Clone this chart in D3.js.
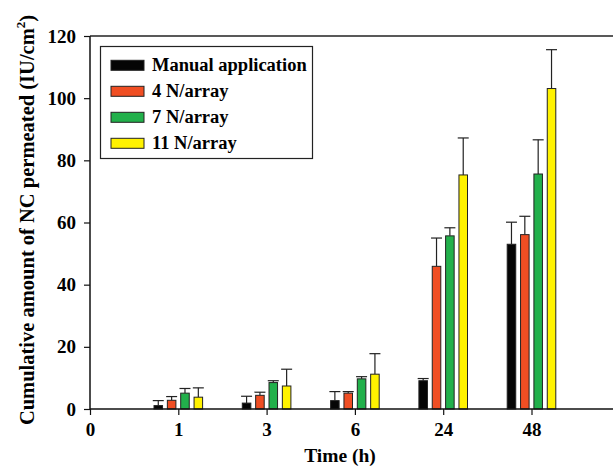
<!DOCTYPE html>
<html lang="en">
<head>
	<meta charset="UTF-8">
	<title>Cumulative NC permeated</title>
	<style>
		html, body {
			margin: 0;
			background: #fff;
		}
		svg text {
			font-family: 'Liberation Serif', 'Times New Roman', serif;
			font-weight: 700;
			fill: #000;
		}
	</style>
	<script src="https://d3js.org/d3.v7.min.js"></script>
</head>
<body>
	<svg id="chart" width="613" height="468"></svg>
	<script>
		// time points (categorical, equally spaced on the axis)
		const times = ['1', '3', '6', '24', '48'];
		const series = ['Manual application', '4 N/array', '7 N/array', '11 N/array'];
		const colors = ['#050505', '#f04e23', '#22b04b', '#fff200'];

		// mean values per series, one per time point
		const manual = [1.1, 1.9, 2.7, 9.1, 53.0];
		const n4 = [2.8, 4.4, 5.1, 45.9, 56.1];
		const n7 = [5.1, 8.5, 9.7, 55.7, 75.6];
		const n11 = [3.8, 7.4, 11.2, 75.3, 103.1];

		// upper error (SD)
		const manualErr = [1.6, 2.2, 2.9, 0.7, 7.1];
		const n4Err = [1.2, 1.0, 0.5, 9.1, 5.9];
		const n7Err = [1.5, 0.6, 0.7, 2.6, 11.0];
		const n11Err = [3.0, 5.4, 6.6, 11.9, 12.5];

		const yTicks = [0, 20, 40, 60, 80, 100, 120];
		const xTickLabels = ['0', ...times];

		const means = [manual, n4, n7, n11];
		const errs = [manualErr, n4Err, n7Err, n11Err];

		const svg = d3.select('#chart');
		const margin = { left: 90, top: 36, bottom: 409 };
		const step = 88.3;

		const x = d3.scaleLinear().domain([0, 6]).range([margin.left, margin.left + 6 * step]);
		const y = d3.scaleLinear().domain([0, 120]).range([margin.bottom, margin.top]);
		const inner = d3.scaleBand().domain(series).range([-24.3, 24.3]).paddingInner(0.36);

		// top frame line
		svg.append('line')
			.attr('x1', margin.left).attr('x2', 620)
			.attr('y1', y(120)).attr('y2', y(120))
			.attr('stroke', '#222').attr('stroke-width', 1.5);

		// bars
		series.forEach((s, si) => {
			const g = svg.append('g');
			const data = times.map((t, ti) => ({ i: ti + 1, v: means[si][ti], e: errs[si][ti] }));
			// error bars first so the bar sits on top
			g.selectAll('line.err')
				.data(data)
				.enter()
				.append('line')
				.attr('class', 'err')
				.attr('x1', d => x(d.i) + inner(s) + inner.bandwidth() / 2)
				.attr('x2', d => x(d.i) + inner(s) + inner.bandwidth() / 2)
				.attr('y1', d => y(d.v))
				.attr('y2', d => y(d.v + d.e))
				.attr('stroke', '#222').attr('stroke-width', 1.2);
			g.selectAll('line.cap')
				.data(data)
				.enter()
				.append('line')
				.attr('class', 'cap')
				.attr('x1', d => x(d.i) + inner(s) + inner.bandwidth() / 2 - 5.5)
				.attr('x2', d => x(d.i) + inner(s) + inner.bandwidth() / 2 + 5.5)
				.attr('y1', d => y(d.v + d.e))
				.attr('y2', d => y(d.v + d.e))
				.attr('stroke', '#222').attr('stroke-width', 1.2);
			g.selectAll('rect')
				.data(data)
				.enter()
				.append('rect')
				.attr('x', d => x(d.i) + inner(s))
				.attr('width', inner.bandwidth())
				.attr('y', d => y(d.v))
				.attr('height', d => y(0) - y(d.v))
				.attr('fill', colors[si])
				.attr('stroke', '#222')
				.attr('stroke-width', 1);
		});

		// axes
		const xAxis = d3.axisBottom(x)
			.tickValues(d3.range(0, 6))
			.tickFormat(i => xTickLabels[i])
			.tickSize(6).tickPadding(8);
		const gx = svg.append('g')
			.attr('transform', `translate(0,${margin.bottom})`)
			.call(xAxis);
		gx.select('.domain').attr('d', `M${margin.left},0H620`).attr('stroke', '#111').attr('stroke-width', 1.5);
		gx.selectAll('.tick line').attr('stroke', '#111').attr('stroke-width', 1.2);
		gx.selectAll('.tick text').style('font-size', '19px').attr('font-family', null);

		const yAxis = d3.axisLeft(y)
			.tickValues(yTicks)
			.tickSize(6).tickPadding(8);
		const gy = svg.append('g')
			.attr('transform', `translate(${margin.left},0)`)
			.call(yAxis);
		gy.select('.domain').attr('d', `M0,${margin.bottom}V${margin.top}`).attr('stroke', '#111').attr('stroke-width', 1.5);
		gy.selectAll('.tick line').attr('stroke', '#111').attr('stroke-width', 1.2);
		gy.selectAll('.tick text').style('font-size', '19px').attr('font-family', null);

		// axis titles
		svg.append('text')
			.attr('x', 340).attr('y', 462)
			.attr('text-anchor', 'middle')
			.style('font-size', '19.5px')
			.text('Time (h)');

		const yTitle = svg.append('text')
			.attr('transform', 'translate(34,220) rotate(-90)')
			.attr('text-anchor', 'middle')
			.style('font-size', '20.5px');
		yTitle.append('tspan').text('Cumulative amount of NC permeated (IU/cm');
		yTitle.append('tspan').attr('dy', -9).style('font-size', '13px').text('2');
		yTitle.append('tspan').attr('dy', 9).text(')');

		// legend
		const legend = svg.append('g');
		legend.append('rect')
			.attr('x', 100.5).attr('y', 46.5)
			.attr('width', 212).attr('height', 112)
			.attr('fill', '#fff').attr('stroke', '#222').attr('stroke-width', 1.2);
		const rowY = d3.scalePoint().domain(series).range([65.3, 143.3]);
		series.forEach((s, si) => {
			legend.append('rect')
				.attr('x', 111).attr('y', rowY(s) - 5)
				.attr('width', 33).attr('height', 10)
				.attr('fill', colors[si]).attr('stroke', '#222').attr('stroke-width', 1);
			legend.append('text')
				.attr('x', 152).attr('y', rowY(s) + 6)
				.style('font-size', '18.5px')
				.text(s);
		});
	</script>
</body>
</html>
